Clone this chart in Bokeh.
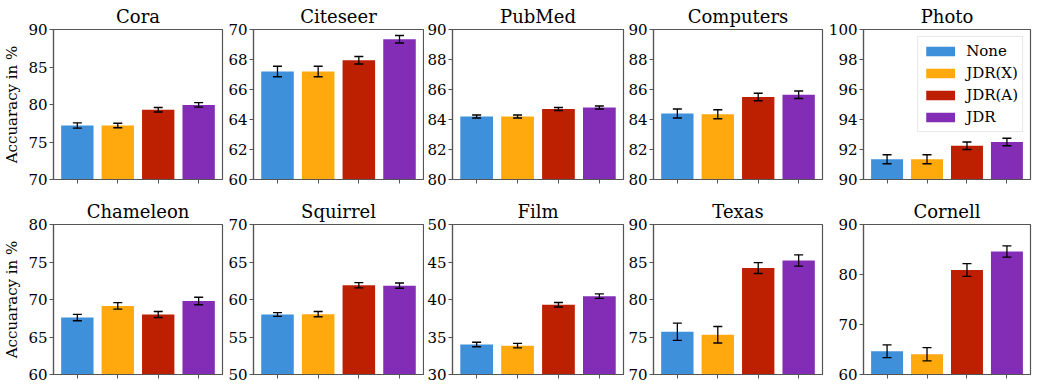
from bokeh.plotting import figure
from bokeh.models import ColumnDataSource, Range1d, FixedTicker, Whisker, TeeHead
from bokeh.layouts import row, column
from bokeh.embed import file_html
from bokeh.resources import INLINE

methods = ["None", "JDR(X)", "JDR(A)", "JDR"]
colors = ["#3f90da", "#ffa90e", "#bd1f01", "#832db6"]

datasets_top = ["Cora", "Citeseer", "PubMed", "Computers", "Photo"]
datasets_bottom = ["Chameleon", "Squirrel", "Film", "Texas", "Cornell"]

acc = {
    "Cora":      [77.2, 77.2, 79.3, 79.95],
    "Citeseer":  [67.2, 67.2, 67.95, 69.35],
    "PubMed":    [84.2, 84.2, 84.7, 84.8],
    "Computers": [84.4, 84.35, 85.5, 85.65],
    "Photo":     [91.35, 91.35, 92.25, 92.5],
    "Chameleon": [67.6, 69.15, 68.0, 69.8],
    "Squirrel":  [58.0, 58.05, 61.9, 61.85],
    "Film":      [34.0, 33.85, 39.3, 40.45],
    "Texas":     [75.7, 75.3, 84.2, 85.2],
    "Cornell":   [64.65, 64.05, 80.9, 84.6],
}
err = {
    "Cora":      [0.35, 0.3, 0.3, 0.3],
    "Citeseer":  [0.35, 0.35, 0.25, 0.25],
    "PubMed":    [0.1, 0.1, 0.1, 0.1],
    "Computers": [0.3, 0.3, 0.25, 0.25],
    "Photo":     [0.3, 0.3, 0.25, 0.25],
    "Chameleon": [0.43, 0.43, 0.4, 0.5],
    "Squirrel":  [0.25, 0.35, 0.35, 0.35],
    "Film":      [0.3, 0.3, 0.3, 0.3],
    "Texas":     [1.14, 1.1, 0.73, 0.75],
    "Cornell":   [1.26, 1.32, 1.29, 1.13],
}
y_limits = {
    "Cora": (70, 90, 5), "Citeseer": (60, 70, 2), "PubMed": (80, 90, 2),
    "Computers": (80, 90, 2), "Photo": (90, 100, 2),
    "Chameleon": (60, 80, 5), "Squirrel": (50, 70, 5), "Film": (30, 50, 5),
    "Texas": (70, 90, 5), "Cornell": (60, 90, 10),
}
ylabel = "Accuaracy in %"

FONT = "DejaVu Serif"
SPINE = "#555555"
# column geometry: (left border, frame width, right border)
cols = [(44, 169, 3), (28, 170, 1), (28, 171, 2), (28, 169, 3), (38, 167, 2)]
FRAME_H = 150


def panel(name, ci, bottom_border, show_ylabel, legend):
    lo, hi, step = y_limits[name]
    lb, fw, rb = cols[ci]
    x = list(range(len(methods)))
    vals = acc[name]
    e = err[name]
    src = ColumnDataSource(dict(
        x=x, top=vals, color=colors, method=methods,
        upper=[v + d for v, d in zip(vals, e)],
        lower=[v - d for v, d in zip(vals, e)],
    ))
    p = figure(frame_width=fw, frame_height=FRAME_H,
               min_border_left=lb, min_border_right=rb,
               min_border_top=24, min_border_bottom=bottom_border,
               x_range=Range1d(-0.59, 3.59), y_range=Range1d(lo, hi),
               output_backend="svg", toolbar_location=None, title=name)
    p.title.text_font = FONT
    p.title.text_font_size = "18px"
    p.title.text_font_style = "normal"
    p.title.align = "center"
    p.title.standoff = 6
    p.title.text_color = "#000000"
    kw = dict(legend_field="method") if legend else {}
    p.vbar(x="x", top="top", bottom=lo, width=0.8, source=src,
           fill_color="color", line_color=None, **kw)
    p.add_layout(Whisker(source=src, base="x", upper="upper", lower="lower",
                         level="overlay",
                         line_color="black", line_width=1.3,
                         upper_head=TeeHead(size=9, line_color="black", line_width=1.3),
                         lower_head=TeeHead(size=9, line_color="black", line_width=1.3)))
    p.grid.visible = False
    p.outline_line_color = SPINE
    p.outline_line_width = 1.2
    ticks = list(range(lo, hi + 1, step))
    p.yaxis.ticker = FixedTicker(ticks=ticks)
    p.yaxis.major_label_text_font = FONT
    p.yaxis.major_label_text_font_size = "15px"
    p.yaxis.major_label_text_color = "#000000"
    p.yaxis.major_label_standoff = 2
    p.yaxis.minor_tick_line_color = None
    p.yaxis.major_tick_in = 0
    p.yaxis.major_tick_out = 4
    p.xaxis.ticker = FixedTicker(ticks=x)
    p.xaxis.major_label_overrides = {i: "" for i in x}
    p.xaxis.major_label_text_font_size = "1px"
    p.xaxis.major_label_standoff = 0
    p.xaxis.minor_tick_line_color = None
    p.xaxis.major_tick_in = 0
    p.xaxis.major_tick_out = 4
    for ax in (p.xaxis, p.yaxis):
        ax.axis_line_color = SPINE
        ax.axis_line_width = 1.2
        ax.major_tick_line_color = SPINE
    if show_ylabel:
        p.yaxis.axis_label = ylabel
        p.yaxis.axis_label_text_font = FONT
        p.yaxis.axis_label_text_font_size = "15px"
        p.yaxis.axis_label_text_font_style = "normal"
        p.yaxis.axis_label_text_color = "#000000"
        p.yaxis.axis_label_standoff = 4
    if legend:
        lg = p.legend[0]
        lg.location = "top_right"
        lg.margin = 7
        lg.padding = 4
        lg.spacing = 2
        lg.label_height = 20
        lg.glyph_height = 12
        lg.glyph_width = 36
        lg.label_standoff = 8
        lg.label_text_font = FONT
        lg.label_text_font_size = "15px"
        lg.label_text_color = "#000000"
        lg.border_line_color = "#d0d0d0"
        lg.border_line_width = 1
        lg.background_fill_alpha = 0.8
    return p


top = [panel(n, i, 16, i == 0, n == "Photo") for i, n in enumerate(datasets_top)]
bot = [panel(n, i, 9, i == 0, False) for i, n in enumerate(datasets_bottom)]
layout = column(row(*top), row(*bot))

open("out.html", "w").write(file_html(layout, INLINE))
